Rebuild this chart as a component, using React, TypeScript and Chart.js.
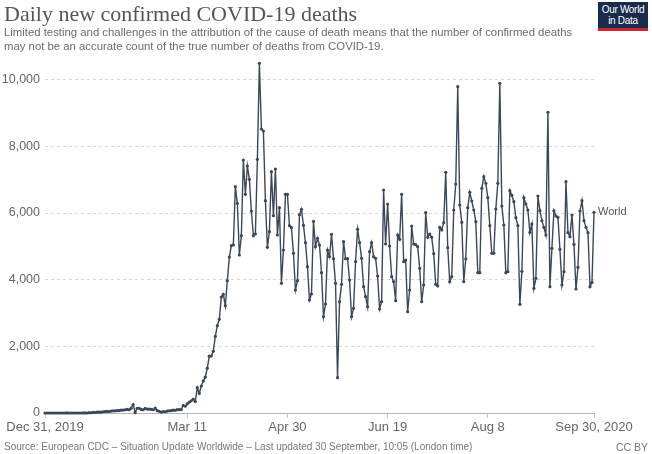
import React, { useEffect, useRef } from "react";
import { Chart, registerables } from "chart.js";

Chart.register(...registerables);

const TITLE = "Daily new confirmed COVID-19 deaths";
const SUBTITLE_LINES = [
  "Limited testing and challenges in the attribution of the cause of death means that the number of confirmed deaths",
  "may not be an accurate count of the true number of deaths from COVID-19.",
];
const SOURCE =
  "Source: European CDC – Situation Update Worldwide – Last updated 30 September, 10:05 (London time)";
const LICENSE = "CC BY";
const LOGO_LINES = ["Our World", "in Data"];
const SERIES_NAME = "World";

// x ticks: day index since Dec 31, 2019
const X_TICK_DAYS = [0, 71, 121, 171, 221, 274];
const X_TICK_LABELS = ["Dec 31, 2019", "Mar 11", "Apr 30", "Jun 19", "Aug 8", "Sep 30, 2020"];
const Y_TICKS = [0, 2000, 4000, 6000, 8000, 10000];

// daily new confirmed deaths, Dec 31 2019 .. Sep 30 2020 (one value per day)
const DAILY_DEATHS = [
  0, 0, 0, 0, 0, 0, 0, 0, 0, 0,
  0, 1, 0, 0, 0, 0, 0, 0, 0, 1,
  3, 0, 9, 8, 16, 15, 24, 26, 26, 38,
  43, 46, 45, 57, 64, 66, 73, 73, 86, 89,
  97, 108, 97, 146, 254, 13, 143, 142, 106, 98,
  139, 115, 118, 109, 97, 150, 71, 52, 29, 44,
  37, 58, 67, 72, 84, 80, 100, 102, 104, 228,
  202, 272, 324, 367, 415, 342, 760, 591, 809, 963,
  1076, 1344, 1706, 1710, 1853, 2297, 2620, 2812, 3477, 3560,
  3219, 3971, 4678, 5021, 5043, 6790, 6290, 4740, 5320, 7590,
  6560, 7410, 7010, 6060, 5320, 5370, 7610, 10490, 8520, 8460,
  6370, 4970, 5440, 7240, 5920, 7320, 5340, 6160, 3890, 4890,
  6560, 6560, 5620, 5560, 4790, 3690, 3970, 5950, 6110, 5630,
  5110, 4390, 3390, 3570, 5750, 4990, 5240, 5040, 4210, 2890,
  3270, 4890, 4690, 5360, 4630, 3890, 1060, 3340, 3860, 5140,
  4630, 4630, 3990, 2890, 3140, 4540, 5510, 5110, 4640, 3790,
  3490, 3190, 4840, 5110, 4690, 4640, 4110, 3120, 3340, 6690,
  5070, 6270, 5010, 4090, 3940, 3370, 5340, 5210, 6560, 4540,
  4590, 3040, 3690, 5610, 5070, 5050, 4990, 4340, 3340, 3840,
  6010, 5270, 5370, 5270, 4780, 3860, 3810, 5570, 5490, 5710,
  7220, 4960, 3940, 4090, 6090, 6870, 9790, 6240, 5720, 3940,
  4620, 6160, 6620, 6360, 6090, 5740, 4210, 4210, 6740, 7090,
  6890, 6460, 5620, 4790, 4790, 6120, 6890, 9890, 6210, 5640,
  4210, 4240, 6670, 6530, 6340, 5860, 5620, 3260, 4250, 6460,
  6270, 6090, 5420, 5670, 3740, 4040, 6510, 6070, 5770, 5570,
  5340, 9020, 3790, 4940, 6070, 5910, 5870, 4910, 3840, 4240,
  6940, 5410, 5290, 5940, 5060, 3720, 4370, 6060, 6370, 5770,
  5570, 5410, 3790, 3920, 6020,
];

const LINE_COLOR = "#3b475a";
const SANS = '"Liberation Sans", Arial, Helvetica, sans-serif';

const endLabel = {
  id: "endLabel",
  afterDatasetsDraw(chart: any) {
    const meta = chart.getDatasetMeta(0);
    const pt = meta.data[meta.data.length - 1];
    if (!pt) return;
    const ctx = chart.ctx;
    ctx.save();
    ctx.font = `11px ${SANS}`;
    ctx.fillStyle = "#555";
    ctx.textBaseline = "middle";
    ctx.textAlign = "left";
    ctx.fillText(SERIES_NAME, pt.x + 4, pt.y);
    ctx.restore();
  },
};

export default function App() {
  const ref = useRef<HTMLCanvasElement | null>(null);

  useEffect(() => {
    if (!ref.current) return;
    const chart = new Chart(ref.current, {
      type: "line",
      data: {
        datasets: [
          {
            label: SERIES_NAME,
            data: DAILY_DEATHS.map((v, i) => ({ x: i, y: v })),
            borderColor: LINE_COLOR,
            backgroundColor: LINE_COLOR,
            borderWidth: 1.4,
            pointRadius: 1.6,
            pointBorderWidth: 0,
            pointBackgroundColor: LINE_COLOR,
            tension: 0,
            clip: false as any,
          },
        ],
      },
      options: {
        animation: false,
        responsive: false,
        devicePixelRatio: 1,
        layout: { padding: { top: 63, right: 58, bottom: 15, left: 0 } },
        plugins: { legend: { display: false }, tooltip: { enabled: false } },
        scales: {
          x: {
            type: "linear",
            min: 0,
            max: DAILY_DEATHS.length - 1,
            afterBuildTicks: (scale: any) => {
              scale.ticks = X_TICK_DAYS.map((v) => ({ value: v }));
            },
            afterFit: (scale: any) => {
              scale.height = 26;
            },
            ticks: {
              autoSkip: false,
              maxRotation: 0,
              minRotation: 0,
              padding: 2,
              color: "#666",
              font: { family: SANS, size: 13 },
              callback: (value: any) => {
                const idx = X_TICK_DAYS.indexOf(Number(value));
                return idx >= 0 ? X_TICK_LABELS[idx] : null;
              },
            },
            grid: {
              drawOnChartArea: false,
              drawTicks: true,
              tickLength: 5,
              color: "#c8c8c8",
            },
            border: { display: true, color: "#b5b5b5", width: 1 },
          },
          y: {
            type: "linear",
            min: 0,
            max: 10500,
            afterBuildTicks: (scale: any) => {
              scale.ticks = Y_TICKS.map((v) => ({ value: v }));
            },
            afterFit: (scale: any) => {
              scale.width = 45;
            },
            ticks: {
              padding: 5,
              color: "#666",
              font: { family: SANS, size: 12.5 },
              callback: (value: any) => Number(value).toLocaleString("en-US"),
            },
            grid: {
              drawTicks: false,
              color: (c: any) => (c.tick && c.tick.value === 0 ? "rgba(0,0,0,0)" : "#d6d6d6"),
              lineWidth: 1,
            },
            border: { display: false, dash: [3, 3] },
          },
        },
      },
      plugins: [endLabel],
    });
    return () => chart.destroy();
  }, []);

  return (
    <div
      style={{
        position: "absolute",
        left: 0,
        top: 0,
        width: 652,
        height: 454,
        background: "#fff",
        overflow: "hidden",
      }}
    >
      <canvas ref={ref} width={652} height={454} style={{ position: "absolute", left: 0, top: 0, width: 652, height: 454 }} />
      <div
        style={{
          position: "absolute",
          left: 4,
          top: 1,
          fontFamily: '"Liberation Serif", "Times New Roman", serif',
          fontSize: 22,
          lineHeight: "25px",
          color: "#555",
          whiteSpace: "nowrap",
        }}
      >
        {TITLE}
      </div>
      <div
        style={{
          position: "absolute",
          left: 4,
          top: 26,
          fontFamily: SANS,
          fontSize: 11.35,
          lineHeight: "13.5px",
          color: "#6b6b6b",
          whiteSpace: "nowrap",
        }}
      >
        {SUBTITLE_LINES.map((l, i) => (
          <div key={i}>{l}</div>
        ))}
      </div>
      <div
        style={{
          position: "absolute",
          left: 598,
          top: 2,
          width: 50,
          height: 29,
          background: "#1a2c4e",
          borderBottom: "3px solid #c9252c",
          boxSizing: "border-box",
          color: "#fff",
          fontFamily: SANS,
          fontSize: 10,
          lineHeight: "11px",
          textAlign: "center",
          paddingTop: 2,
          letterSpacing: -0.3,
        }}
      >
        {LOGO_LINES.map((l, i) => (
          <div key={i}>{l}</div>
        ))}
      </div>
      <div
        style={{
          position: "absolute",
          left: 4,
          top: 441,
          fontFamily: SANS,
          fontSize: 10,
          lineHeight: "12px",
          color: "#777",
          whiteSpace: "nowrap",
        }}
      >
        {SOURCE}
      </div>
      <div
        style={{
          position: "absolute",
          right: 4,
          top: 441,
          fontFamily: SANS,
          fontSize: 10.5,
          lineHeight: "12px",
          color: "#777",
          whiteSpace: "nowrap",
        }}
      >
        {LICENSE}
      </div>
    </div>
  );
}
